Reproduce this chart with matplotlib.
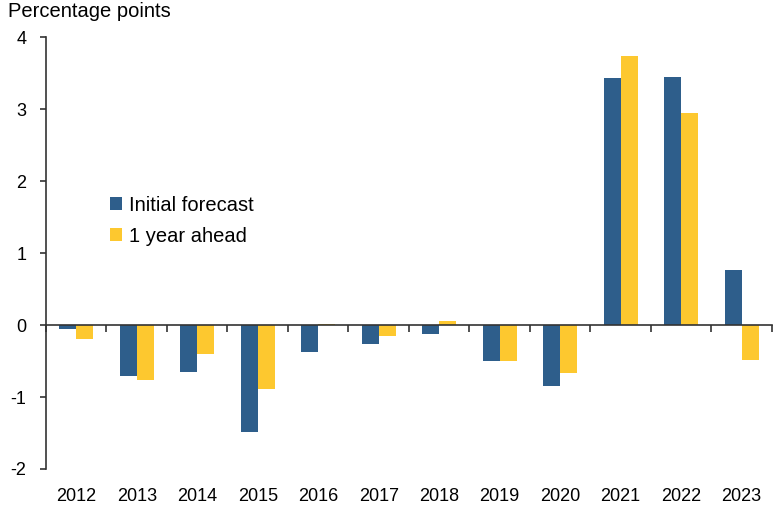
import numpy as np
import matplotlib.pyplot as plt
import matplotlib.transforms as mtransforms

plt.rcParams['font.family'] = ['Liberation Sans', 'DejaVu Sans']

# Data
years = ['2012', '2013', '2014', '2015', '2016', '2017',
         '2018', '2019', '2020', '2021', '2022', '2023']
initial_forecast = [-0.05, -0.71, -0.65, -1.49, -0.38, -0.27,
                    -0.13, -0.50, -0.85, 3.43, 3.45, 0.76]
one_year_ahead = [-0.20, -0.76, -0.40, -0.89, 0.02, -0.15,
                  0.06, -0.50, -0.66, 3.74, 2.94, -0.49]
yticks = [-2, -1, 0, 1, 2, 3, 4]

blue = '#2E5E8B'
yellow = '#FDC82F'

fig = plt.figure(figsize=(7.73, 5.08), dpi=100)
ax = fig.add_axes([0.0595, 0.0768, 0.939, 0.8502])

x = np.arange(len(years))
w = 0.28
ax.bar(x - w / 2, initial_forecast, width=w, color=blue, label='Initial forecast')
ax.bar(x + w / 2, one_year_ahead, width=w, color=yellow, label='1 year ahead')

ax.set_xlim(-0.5, len(years) - 0.5)
ax.set_ylim(-2, 4)

# y axis
ax.set_yticks(yticks)
ax.set_yticklabels([str(t) for t in yticks], fontsize=13)
ax.tick_params(axis='y', direction='out', length=4, width=1.2, pad=10, color='#333333')
ax.spines['left'].set_linewidth(1.2)
ax.spines['left'].set_color('#333333')

# x axis at zero with ticks between categories
ax.spines['bottom'].set_position(('data', 0))
ax.spines['bottom'].set_linewidth(1.2)
ax.spines['bottom'].set_color('#333333')
ax.set_xticks(np.arange(len(years) + 1) - 0.5)
ax.set_xticklabels([])
ax.tick_params(axis='x', direction='out', length=5, width=1.2, color='#333333')
for s in ['top', 'right']:
    ax.spines[s].set_visible(False)

# category labels below the plot
trans = mtransforms.blended_transform_factory(ax.transData, ax.transAxes)
for xi, yr in zip(x, years):
    ax.text(xi, -0.045, yr, transform=trans, ha='center', va='top', fontsize=13)

fig.text(0.010, 0.997, 'Percentage points', ha='left', va='top', fontsize=14.5)

ax.legend(loc='upper left', bbox_to_anchor=(0.063, 0.675), frameon=False,
          fontsize=14.5, handlelength=0.6, handleheight=0.6, handletextpad=0.35,
          labelspacing=0.6)

fig.savefig('out.png', dpi=100)
